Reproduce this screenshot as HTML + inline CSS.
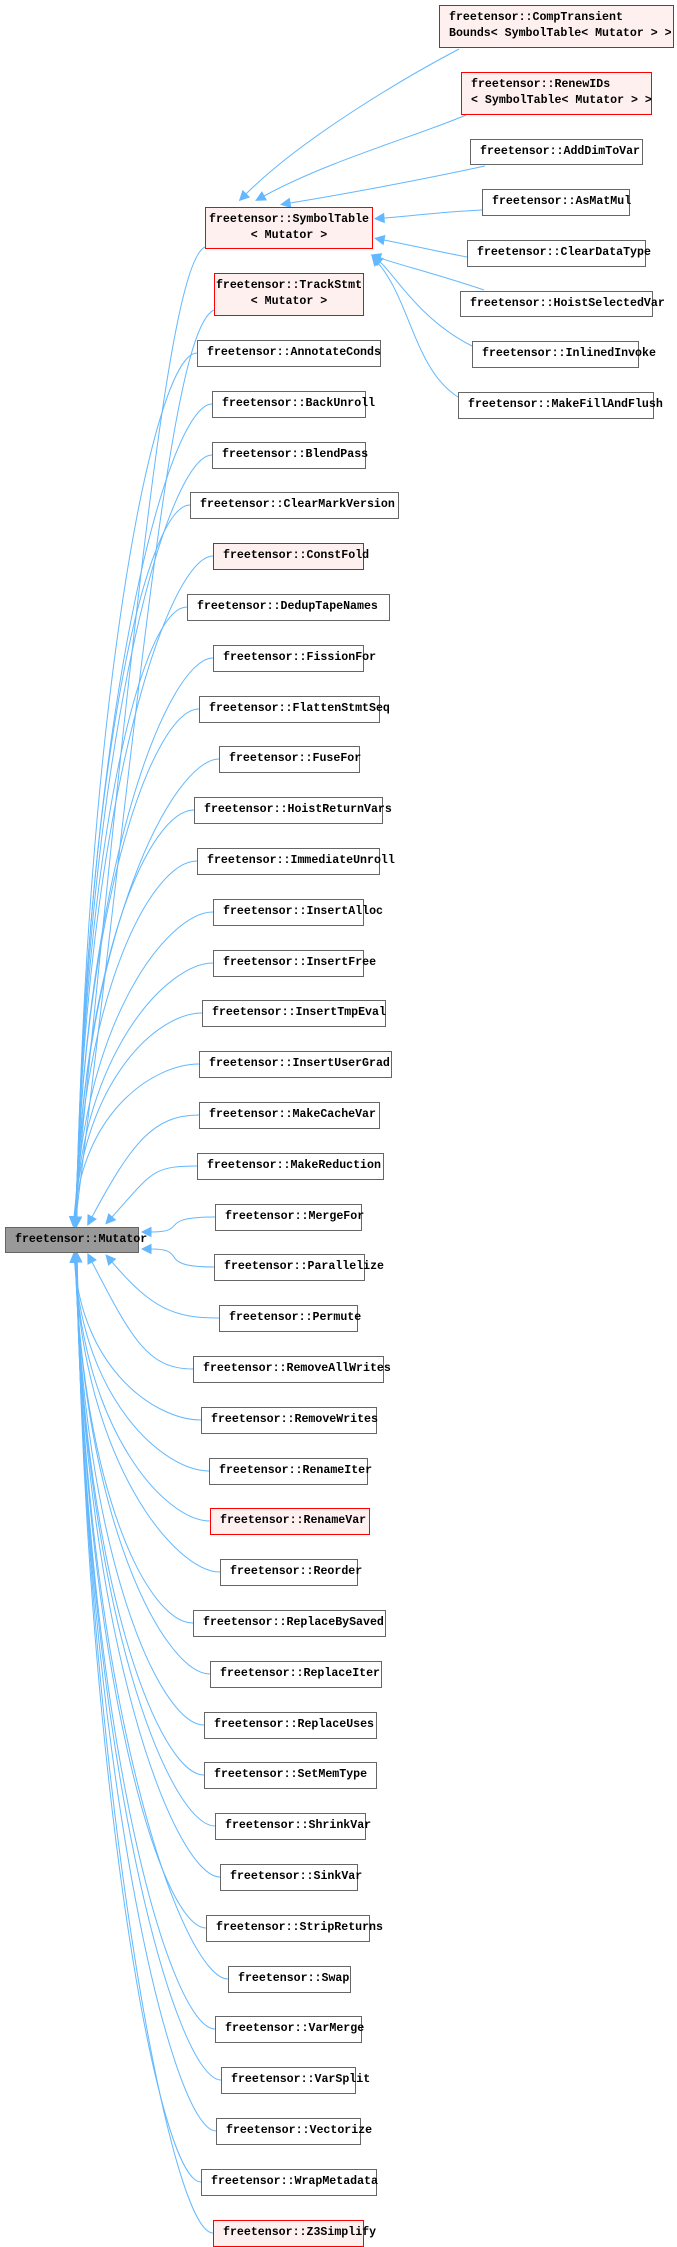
<!DOCTYPE html>
<html><head><meta charset="utf-8"><style>
html,body{margin:0;padding:0;background:#fff;}
body{width:677px;height:2247px;position:relative;overflow:hidden;}
svg{position:absolute;left:0;top:0;}
.b{position:absolute;box-sizing:border-box;border:1px solid #666;background:#fff;font-family:"Liberation Mono",monospace;font-size:11.6px;font-weight:bold;color:#000;white-space:nowrap;line-height:16px;padding:4px 0 0 9px;overflow:visible;}
.r{border-color:#f00;background:#fff0f0;}
.m{background:#999;}
.c{text-align:center;padding-left:0;}
</style></head><body>
<svg id="s" width="677" height="2247" viewBox="0 0 677 2247"></svg>
<div id="boxes"></div>
<script>
var S=document.getElementById('s'),B=document.getElementById('boxes');
var ns='http://www.w3.org/2000/svg';
function box(x1,y1,x2,y2,html,cls){var d=document.createElement('div');d.className='b '+(cls||'');d.style.left=x1+'px';d.style.top=y1+'px';d.style.width=(x2-x1)+'px';d.style.height=(y2-y1)+'px';d.innerHTML=html;B.appendChild(d);}
function edge(x0,y0,c1x,c1y,c2x,c2y,ex,ey){
 var p=document.createElementNS(ns,'path');
 p.setAttribute('d','M'+x0+','+y0+' C'+c1x+','+c1y+' '+c2x+','+c2y+' '+ex+','+ey);
 p.setAttribute('fill','none');p.setAttribute('stroke','#63b8ff');p.setAttribute('stroke-width','1');S.appendChild(p);
 var dx=ex-c2x,dy=ey-c2y,L=Math.sqrt(dx*dx+dy*dy)||1;dx/=L;dy/=L;
 var tx=ex+dx*9,ty=ey+dy*9,px=-dy*4.5,py=dx*4.5;
 var t=document.createElementNS(ns,'polygon');
 t.setAttribute('points',(ex+px)+','+(ey+py)+' '+tx+','+ty+' '+(ex-px)+','+(ey-py));
 t.setAttribute('fill','#63b8ff');t.setAttribute('stroke','#63b8ff');S.appendChild(t);
}
// SymbolTable children edges
edge(459,49,400,80,300,140,246,194);
edge(466,115,420,135,330,160,264,196);
edge(485,166,420,180,340,195,290,203);
edge(482,210,440,212,410,216,384,218);
edge(467,257,440,252,405,244,384,240);
edge(484,290,440,275,400,265,380,258);
edge(472,346,420,320,395,275,380,262);
edge(458,397,415,370,410,300,378,263);
var st=[[439,5,674,48,'freetensor::CompTransient<br>Bounds&lt; SymbolTable&lt; Mutator &gt; &gt;','r'],
[461,72,652,115,'freetensor::RenewIDs<br>&lt; SymbolTable&lt; Mutator &gt; &gt;','r'],
[470,139,643,165,'freetensor::AddDimToVar',''],
[482,189,630,216,'freetensor::AsMatMul',''],
[467,240,646,267,'freetensor::ClearDataType',''],
[460,291,653,317,'freetensor::HoistSelectedVar',''],
[472,341,639,368,'freetensor::InlinedInvoke',''],
[458,392,654,419,'freetensor::MakeFillAndFlush','']];
st.forEach(function(e){box(e[0],e[1],e[2],e[3],e[4],e[5]);});
box(205,207,373,249,'freetensor::SymbolTable<br>&lt; Mutator &gt;','r c');
box(214,273,364,316,'freetensor::TrackStmt<br>&lt; Mutator &gt;','r c');
edge(205,247,170,262,135,600,74,1217);
edge(214,310,170,330,140,700,76,1217);
var L=[['AnnotateConds',197,381],['BackUnroll',212,366],['BlendPass',212,366],['ClearMarkVersion',190,399],['ConstFold',213,364,'r'],['DedupTapeNames',187,390],['FissionFor',213,364],['FlattenStmtSeq',199,380],['FuseFor',219,360],['HoistReturnVars',194,383],['ImmediateUnroll',197,380],['InsertAlloc',213,364],['InsertFree',213,364],['InsertTmpEval',202,386],['InsertUserGrad',199,392],['MakeCacheVar',199,380],['MakeReduction',197,384],['MergeFor',215,362],['Parallelize',214,365],['Permute',219,358],['RemoveAllWrites',193,384],['RemoveWrites',201,377],['RenameIter',209,368],['RenameVar',210,370,'r'],['Reorder',220,358],['ReplaceBySaved',193,386],['ReplaceIter',210,382],['ReplaceUses',204,377],['SetMemType',204,377],['ShrinkVar',215,366],['SinkVar',220,358],['StripReturns',206,370],['Swap',228,351],['VarMerge',215,362],['VarSplit',221,356],['Vectorize',216,361],['WrapMetadata',201,377],['Z3Simplify',213,364,'r']];
L.forEach(function(e,i){var top=Math.round(340+i*50.8),m=top+13;var x=e[1];
 var d=m-1240,ad=Math.abs(d);
 if(ad<40){var ey=d<0?1232:1249;edge(x,m,x-60,m,190,ey,151,ey);}
 else{var ex,ey;
  if(ad<90)ex=112;else if(ad<160)ex=92;else ex=74+Math.min(6,ad/300);
  ey=d<0?1217:1262;
  var c2y=d<0?ey-Math.min(ad*0.6,500):ey+Math.min(ad*0.6,500);
  edge(x,m,x-45,m,ex+ (ad<160?40:8),c2y,ex,ey);}
});
L.forEach(function(e,i){var top=Math.round(340+i*50.8);box(e[1],top,e[2],top+27,'freetensor::'+e[0],e[3]||'');});
box(5,1227,139,1253,'freetensor::Mutator','m');
</script>
</body></html>
